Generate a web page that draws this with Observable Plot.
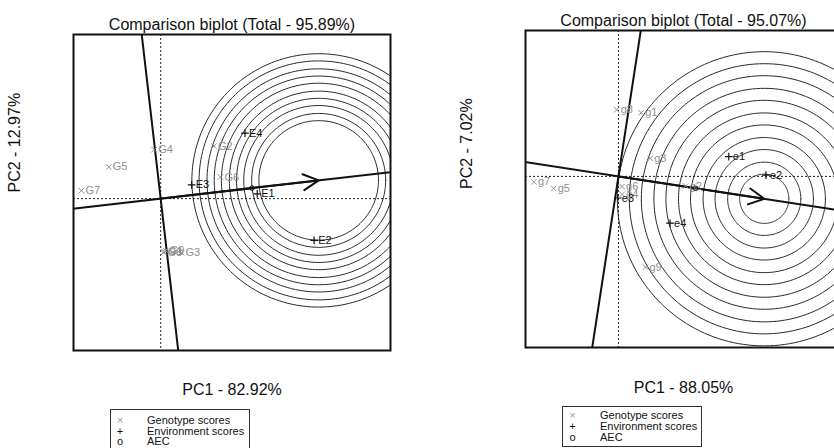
<!DOCTYPE html>
<html><head><meta charset="utf-8">
<script src="https://cdn.jsdelivr.net/npm/d3@7"></script>
<script src="https://cdn.jsdelivr.net/npm/@observablehq/plot@0.6"></script>
<style>
html,body{margin:0;padding:0;background:#fff;overflow:hidden;}
#wrap{position:relative;width:834px;height:448px;overflow:hidden;font-family:"Liberation Sans",Arial,Helvetica,sans-serif;}
.panel{position:absolute;top:0;height:448px;}
.legend{position:absolute;border:1px solid #333;box-sizing:border-box;background:#fff;font-size:11px;color:#111;}
.legend .row{position:absolute;left:0;right:0;height:11px;line-height:11px;white-space:nowrap;}
.legend .sym{position:absolute;transform:translateX(-50%);}
.legend .lab{position:absolute;}
</style></head><body><div id="wrap"></div>
<script>
// ---------- Left panel ----------
const titleL = "Comparison biplot (Total - 95.89%)";
const xLabelL = "PC1 - 82.92%";
const yLabelL = "PC2 - 12.97%";
const genoNamesL = ["G1","G2","G3","G4","G5","G6","G7","G8","G9"];
const genoPC1L   = [0.05, 0.74, 0.29, -0.09, -0.72, 0.83, -1.10, 0.04, 0.07];
const genoPC2L   = [-0.74, 0.73, -0.75, 0.68, 0.44, 0.30, 0.11, -0.745, -0.725];
const envNamesL  = ["E1","E2","E3","E4"];
const envPC1L    = [1.34, 2.13, 0.43, 1.17];
const envPC2L    = [0.065, -0.58, 0.19, 0.91];
const ringRadiiL = [0.83, 0.93, 1.04, 1.14, 1.24, 1.35, 1.45, 1.55, 1.66, 1.76];
const xLimL = [-1.21, 3.19];
const yLimL = [-2.11, 2.28];

// ---------- Right panel ----------
const titleR = "Comparison biplot (Total - 95.07%)";
const xLabelR = "PC1 - 88.05%";
const yLabelR = "PC2 - 7.02%";
const genoNamesR = ["g1","g2","g3","g4","g5","g6","g7","g8","g9"];
const genoPC1R   = [0.38, 1.12, 0.53, 0.06, -1.08, 0.06, -1.41, -0.03, 0.45];
const genoPC2R   = [1.06, -0.16, 0.30, -0.30, -0.20, -0.17, -0.09, 1.11, -1.51];
const envNamesR  = ["e1","e2","e3","e4"];
const envPC1R    = [1.84, 2.46, -0.01, 0.86];
const envPC2R    = [0.33, 0.02, -0.36, -0.78];
const ringRadiiR = [0.41, 0.61, 0.82, 1.02, 1.23, 1.43, 1.64, 1.84, 2.05, 2.25, 2.45];
const xLimR = [-1.55, 3.72];
const yLimR = [-2.85, 2.43];

// ---------- Legend ----------
const legendSymbols = ["×", "+", "o"];
const legendLabels = ["Genotype scores", "Environment scores", "AEC"];
const legendColors = ["#9a9a9a", "#111", "#111"];

const GENO_COLOR = "#8f8f8f";
const FONT = "Liberation Sans, Arial, Helvetica, sans-serif";

function panel(cfg) {
  const geno = cfg.gn.map((n, i) => ({name: n, x: cfg.gx[i], y: cfg.gy[i]}));
  const env = cfg.en.map((n, i) => ({name: n, x: cfg.ex[i], y: cfg.ey[i]}));
  // average environment coordinate
  const mx = d3.mean(env, d => d.x), my = d3.mean(env, d => d.y);
  const s = my / mx;
  const len = Math.hypot(mx, my);
  const ux = mx / len, uy = my / len;
  const L = d3.max(env, d => Math.hypot(d.x, d.y));
  const ideal = {x: L * ux, y: L * uy};
  const rings = [];
  cfg.radii.forEach((r, k) => {
    for (let a = 0; a <= 360; a += 2) {
      const t = a * Math.PI / 180;
      rings.push({ring: k, x: ideal.x + r * Math.cos(t), y: ideal.y + r * Math.sin(t)});
    }
  });
  const [x0, x1] = cfg.xlim, [y0, y1] = cfg.ylim;
  const aec = [{x: x0 - 1, y: s * (x0 - 1)}, {x: x1 + 1, y: s * (x1 + 1)}];
  const perp = [{x: -s * (y0 - 1), y: y0 - 1}, {x: -s * (y1 + 1), y: y1 + 1}];
  return Plot.plot({
    width: cfg.width, height: 448,
    marginLeft: cfg.ml, marginRight: cfg.mr, marginTop: cfg.mt, marginBottom: cfg.mb,
    x: {domain: cfg.xlim, axis: null},
    y: {domain: cfg.ylim, axis: null},
    style: {fontFamily: FONT, background: "white", overflow: "visible"},
    marks: [
      Plot.line(rings, {x: "x", y: "y", z: "ring", stroke: "#2a2a2a", strokeWidth: 1, clip: true}),
      Plot.ruleX([0], {stroke: "#222", strokeWidth: 1, strokeDasharray: "2,2"}),
      Plot.ruleY([0], {stroke: "#222", strokeWidth: 1, strokeDasharray: "2,2"}),
      Plot.line(aec, {x: "x", y: "y", stroke: "#111", strokeWidth: 2, clip: true}),
      Plot.line(perp, {x: "x", y: "y", stroke: "#111", strokeWidth: 2, clip: true}),
      Plot.arrow([ideal], {x1: 0, y1: 0, x2: "x", y2: "y", stroke: "#111", strokeWidth: 2, headLength: 13, headAngle: 55}),
      Plot.dot(geno, {x: "x", y: "y", symbol: "times", r: 2.6, stroke: GENO_COLOR, strokeWidth: 1}),
      Plot.text(geno, {x: "x", y: "y", text: "name", dx: 4, textAnchor: "start", fill: GENO_COLOR, fontSize: 11}),
      Plot.dot(env, {x: "x", y: "y", symbol: "plus", r: 2.6, stroke: "#111", strokeWidth: 1.2}),
      Plot.text(env, {x: "x", y: "y", text: "name", dx: 4, textAnchor: "start", fill: "#111", fontSize: 11}),
      Plot.dot([{x: mx, y: my}], {x: "x", y: "y", r: 2.3, stroke: "#111", strokeWidth: 1, fill: "none"}),
      Plot.frame({stroke: "#111", strokeWidth: 2}),
      Plot.text([cfg.title], {frameAnchor: "top", dy: cfg.titleDy, fontSize: 16, fill: "#111"}),
      Plot.text([cfg.xlab], {frameAnchor: "bottom", dy: cfg.xlabDy, fontSize: 16, fill: "#111"}),
      Plot.text([cfg.ylab], {frameAnchor: "left", rotate: -90, dx: -59, fontSize: 16, fill: "#111"})
    ]
  });
}

const wrap = document.getElementById("wrap");
function place(node, left, width) {
  const d = document.createElement("div");
  d.className = "panel";
  d.style.left = left + "px";
  d.style.width = width + "px";
  d.appendChild(node);
  wrap.appendChild(d);
}

place(panel({
  gn: genoNamesL, gx: genoPC1L, gy: genoPC2L,
  en: envNamesL, ex: envPC1L, ey: envPC2L,
  radii: ringRadiiL, xlim: xLimL, ylim: yLimL,
  title: titleL, xlab: xLabelL, ylab: yLabelL,
  width: 420, ml: 73, mr: 30, mt: 34, mb: 98, titleDy: -16, xlabDy: 44
}), 0, 420);

place(panel({
  gn: genoNamesR, gx: genoPC1R, gy: genoPC2R,
  en: envNamesR, ex: envPC1R, ey: envPC2R,
  radii: ringRadiiR, xlim: xLimR, ylim: yLimR,
  title: titleR, xlab: xLabelR, ylab: yLabelR,
  width: 420, ml: 75, mr: 29, mt: 30, mb: 101, titleDy: -16, xlabDy: 45
}), 450, 420);

function legend(left, top, width, height, rowTops, symX, labX) {
  const box = document.createElement("div");
  box.className = "legend";
  Object.assign(box.style, {left: left + "px", top: top + "px", width: width + "px", height: height + "px"});
  legendLabels.forEach((lab, i) => {
    const row = document.createElement("div");
    row.className = "row";
    row.style.top = rowTops[i] + "px";
    const sy = document.createElement("span");
    sy.className = "sym";
    sy.style.left = symX + "px";
    sy.style.color = legendColors[i];
    sy.textContent = legendSymbols[i];
    const tx = document.createElement("span");
    tx.className = "lab";
    tx.style.left = labX + "px";
    tx.textContent = lab;
    row.appendChild(sy); row.appendChild(tx);
    box.appendChild(row);
  });
  wrap.appendChild(box);
}
legend(110, 409, 140, 42, [5, 15.7, 26], 9, 36);
legend(562, 406, 140, 41, [3, 14, 24.7], 9.5, 37);
</script>
</body></html>
